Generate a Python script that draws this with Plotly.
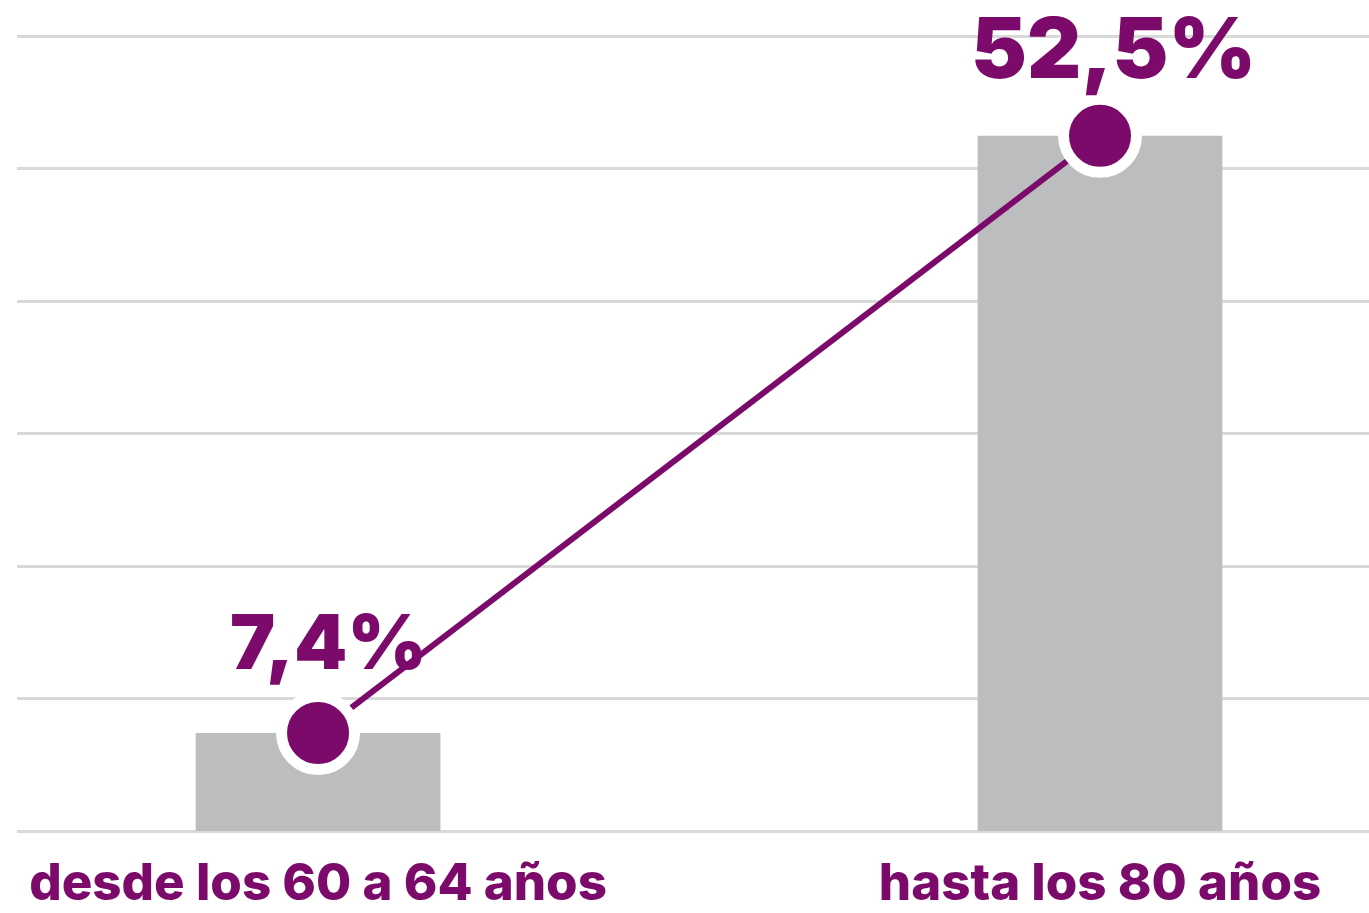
import plotly.graph_objects as go

categories = ["desde los 60 a 64 años", "hasta los 80 años"]
values = [7.4, 52.5]
value_labels = ["7,4%", "52,5%"]
x_pos = [0, 1]

PURPLE = "#7b0a6a"
GREY = "#bcbdbf"
GRID = "#d9d9d9"
FONT = "Inter"

fig = go.Figure()
fig.add_trace(go.Bar(x=x_pos, y=values, width=0.313, marker=dict(color=GREY, line=dict(width=0)),
                     hoverinfo="skip"))
fig.add_trace(go.Scatter(x=x_pos, y=values, mode="lines+markers",
                         line=dict(color=PURPLE, width=6),
                         marker=dict(size=73, color=PURPLE, line=dict(color="white", width=11)),
                         cliponaxis=False, hoverinfo="skip"))

label_sizes = [76, 84]
label_xshift = [10, 13]
label_yshift = [92, 88]
for xv, yv, lab, sz, xs, ys in zip(x_pos, values, value_labels, label_sizes, label_xshift, label_yshift):
    fig.add_annotation(x=xv, y=yv, text=lab, showarrow=False, xanchor="center", yanchor="middle",
                       xshift=xs, yshift=ys,
                       font=dict(family=FONT, size=sz, color=PURPLE, weight=900))

fig.update_layout(
    width=1369, height=913,
    margin=dict(l=17, r=0, t=10, b=82, autoexpand=False),
    paper_bgcolor="white", plot_bgcolor="white",
    showlegend=False,
    xaxis=dict(range=[-0.385, 1.344], tickvals=x_pos, ticktext=categories, showgrid=False,
               zeroline=False, showline=False, ticks="", ticklabelstandoff=17, automargin=False,
               tickfont=dict(family=FONT, size=51, color=PURPLE, weight=800)),
    yaxis=dict(range=[0, 62], dtick=10, showgrid=True, gridcolor=GRID, gridwidth=3, automargin=False,
               zeroline=True, zerolinecolor=GRID, zerolinewidth=3, showticklabels=False,
               showline=False, ticks=""),
)
fig.write_html("out.html", config={"displayModeBar": False},
               post_script="document.body.style.margin='0';document.body.style.overflow='hidden';")
